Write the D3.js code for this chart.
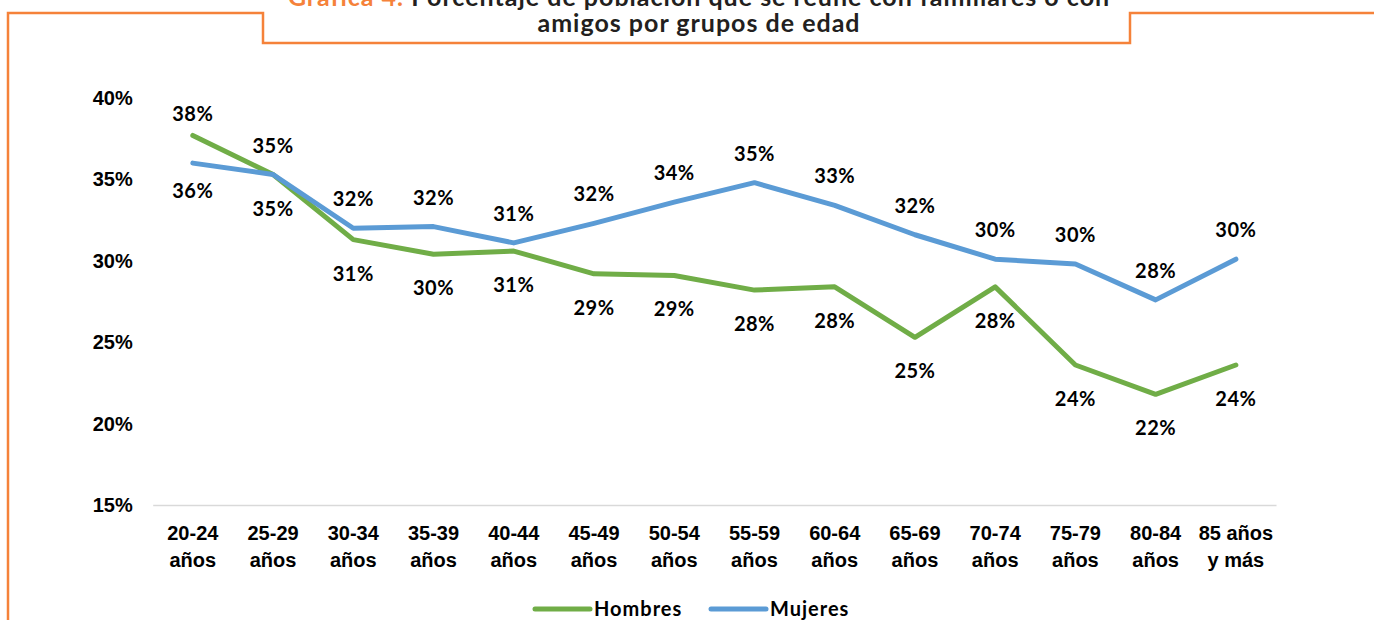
<!DOCTYPE html>
<html>
<head>
<meta charset="utf-8">
<script src="https://cdn.jsdelivr.net/npm/d3@7"></script>
<style>
  html, body { margin: 0; padding: 0; background: #fff; }
  svg { display: block; font-family: 'Century Gothic', Lato, 'Open Sans', sans-serif; font-weight: bold; }
</style>
</head>
<body>
<div id="chart"></div>
<script>
// data
const categories = [
  '20-24\naños', '25-29\naños', '30-34\naños', '35-39\naños', '40-44\naños',
  '45-49\naños', '50-54\naños', '55-59\naños', '60-64\naños', '65-69\naños',
  '70-74\naños', '75-79\naños', '80-84\naños', '85 años\ny más'
];
const hombres = [37.7, 35.3, 31.3, 30.4, 30.6, 29.2, 29.1, 28.2, 28.4, 25.3, 28.4, 23.6, 21.8, 23.6];
const mujeres = [36.0, 35.3, 32.0, 32.1, 31.1, 32.3, 33.6, 34.8, 33.4, 31.6, 30.1, 29.8, 27.6, 30.1];
const yTicks = [15, 20, 25, 30, 35, 40];
const titleLines = [
  ['Gráfica 4. ', 'Porcentaje de población que se reúne con familiares o con'],
  ['', 'amigos por grupos de edad']
];
const seriesNames = ['Hombres', 'Mujeres'];

const WIDTH = 1374;
const HEIGHT = 620;
const LEFT = 152.7;
const RIGHT = 1276;
const Y_BOTTOM = 505;
const Y_TOP = 98;
const ORANGE = '#F5823A';
const COLORS = { Hombres: '#70AD47', Mujeres: '#5B9BD5' };
// label offsets (centre of text vs point), per series
const LABEL_OFFSET = {
  Hombres: { above: -21, below: 34 },
  Mujeres: { above: -29, below: 28 }
};
let svg, xScale, yScale;

function xCenter(i) {
  return xScale(categories[i]) + xScale.bandwidth() / 2;
}

function drawFrame() {
  svg.append('path')
    .attr('d', `M8,${HEIGHT} V13 H263 V43 H1130 V13 H${WIDTH}`)
    .attr('fill', 'none')
    .attr('stroke', ORANGE)
    .attr('stroke-width', 2.5);

  let title = svg.append('g').attr('class', 'title')
    .attr('font-size', 25)
    .attr('letter-spacing', 1);

  titleLines.forEach((parts, i) => {
    let t = title.append('text')
      .attr('x', 699)
      .attr('y', 6 + i * 26)
      .attr('text-anchor', 'middle');
    if (parts[0]) t.append('tspan').attr('fill', ORANGE).text(parts[0]);
    t.append('tspan').attr('fill', '#231F20').text(parts[1]);
  });
}

function buildAxis() {
  xScale = d3.scaleBand()
    .domain(categories)
    .range([LEFT, RIGHT]);

  yScale = d3.scaleLinear()
    .domain([15, 40])
    .range([Y_BOTTOM, Y_TOP]);

  let yAxis = d3.axisLeft(yScale)
    .tickValues(yTicks)
    .tickSize(0)
    .tickPadding(20)
    .tickFormat((d) => d + '%');

  let xAxis = d3.axisBottom(xScale)
    .tickSize(0)
    .tickSizeOuter(0);

  let yg = svg.append('g')
    .attr('class', 'yAxis')
    .attr('transform', `translate(${LEFT}, 0)`)
    .call(yAxis);
  yg.select('.domain').remove();
  yg.selectAll('text')
    .attr('font-size', 20)
    .attr('font-family', null)
    .attr('fill', '#000');

  let xg = svg.append('g')
    .attr('class', 'xAxis')
    .attr('transform', `translate(0, ${Y_BOTTOM})`)
    .call(xAxis);
  xg.select('.domain')
    .attr('stroke', '#D9D9D9')
    .attr('stroke-width', 1.5);
  xg.selectAll('text')
    .attr('font-size', 20)
    .attr('font-family', null)
    .attr('fill', '#000')
    .attr('y', 0)
    .attr('dy', null)
    .each(function (d) {
      let el = d3.select(this).text(null);
      d.split('\n').forEach((line, i) => {
        el.append('tspan')
          .attr('x', 0)
          .attr('y', 28 + i * 27)
          .attr('dy', '0.35em')
          .text(line);
      });
    });
}

function buildDataLines() {
  let line = d3.line()
    .x((d, i) => xCenter(i))
    .y((d) => yScale(d));

  let series = [
    { name: 'Hombres', values: hombres, other: mujeres },
    { name: 'Mujeres', values: mujeres, other: hombres }
  ];

  series.forEach((s) => {
    svg.append('path')
      .datum(s.values)
      .attr('class', 'line')
      .attr('d', line)
      .attr('fill', 'none')
      .attr('stroke', COLORS[s.name])
      .attr('stroke-width', 5)
      .attr('stroke-linejoin', 'round')
      .attr('stroke-linecap', 'round');
  });

  series.forEach((s) => {
    svg.append('g')
      .attr('class', 'labels')
      .selectAll('text')
      .data(s.values)
      .enter()
      .append('text')
      .attr('x', (d, i) => xCenter(i))
      .attr('y', (d, i) => {
        // upper series gets label above, ties go to Mujeres
        let above = s.name === 'Mujeres' ? d >= s.other[i] : d > s.other[i];
        return yScale(d) + LABEL_OFFSET[s.name][above ? 'above' : 'below'];
      })
      .attr('dy', '0.35em')
      .attr('text-anchor', 'middle')
      .attr('font-size', 20)
      .attr('letter-spacing', 0.5)
      .attr('fill', '#000')
      .text((d) => Math.round(d) + '%');
  });
}

function buildLegend() {
  let legend = svg.append('g')
    .attr('class', 'legend')
    .attr('transform', 'translate(535, 609)');

  let items = legend.selectAll('g')
    .data(seriesNames)
    .enter()
    .append('g')
    .attr('transform', (d, i) => `translate(${i * 176}, 0)`);

  items.append('line')
    .attr('x1', 0)
    .attr('x2', 55)
    .attr('stroke', (d) => COLORS[d])
    .attr('stroke-width', 5)
    .attr('stroke-linecap', 'round');

  items.append('text')
    .attr('x', 59)
    .attr('dy', '0.35em')
    .attr('font-size', 20)
    .attr('letter-spacing', 1)
    .attr('fill', '#000')
    .text((d) => d);
}

function buildChart(selector) {
  svg = d3.select(selector).append('svg')
    .attr('width', WIDTH)
    .attr('height', HEIGHT);

  drawFrame();
  buildAxis();
  buildDataLines();
  buildLegend();
}

buildChart('#chart');
</script>
</body>
</html>
